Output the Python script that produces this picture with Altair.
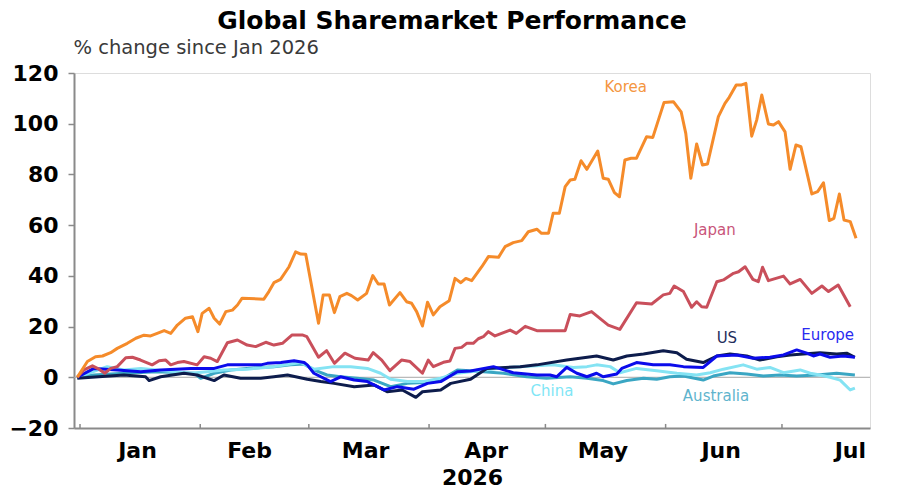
import altair as alt
import pandas as pd

BASE = pd.Timestamp("2026-01-01")

# ---- data (day offsets from 1 Jan 2026, % change since Jan 2026) ----
korea_days = [-0.7, 1.9, 4, 5.8, 7.9, 9.6, 12.2, 14.4, 16.5, 18.2, 19.9, 21.7, 23.4, 25.1, 27.2, 29, 30.4, 31.5,
              33.3, 34.6, 36, 37.6, 39.3, 40.6, 41.8, 47.4, 48.7, 50, 51.7, 53.9, 55.6, 56.9, 58.2, 61.5, 62.7,
              64.3, 65.6, 67, 68.8, 70, 71.6, 73.9, 75.5, 76.9, 78.4, 79.8, 82.5, 84.2, 85.5, 86.8, 88.3, 89.6,
              91.1, 92.8, 95.2, 96.7, 98.2, 99.5, 101, 103.6, 105.3, 107.9, 109.6, 111.7, 113.9, 115.6, 117.8,
              119, 120.8, 122, 123.6, 125.1, 126.4, 127.6, 129.2, 130.7, 133.5, 134.9, 136.2, 137.8, 139.1, 140.5,
              142.1, 143.5, 146.1, 147.7, 150.6, 153, 155, 156.2, 157.5, 159, 160.5, 161.8, 164.6, 166.3, 167.4,
              169.2, 170.6, 171.7, 173.2, 174.5, 175.8, 177.5, 178.8, 180.1, 181.8, 183.1, 184.6, 185.9, 188.7,
              190.2, 191.7, 193.2, 194.4, 195.8, 197, 198.6, 200.1]
korea_vals = [0, 6.2, 8.1, 8.4, 9.7, 11.4, 13.4, 15.4, 16.6, 16.3, 17.3, 18.4, 17.3, 20.6, 23.3, 23.9, 18, 25.2,
              27.2, 23.3, 21, 25.9, 26.5, 28.5, 31.2, 30.8, 33.8, 37.3, 38.6, 43.6, 49.5, 48.6, 48.5, 21.3, 32.5,
              32.5, 25.5, 31.8, 33.1, 32.2, 30.5, 33.1, 40.1, 36.8, 36.8, 28.5, 33.4, 29.8, 29.2, 25.9, 20.2, 29.6,
              24.6, 27.8, 30.2, 39, 37.3, 39, 38.1, 43.6, 47.6, 47.3, 51.5, 53.1, 53.9, 57.4, 58.4,
              56.8, 56.8, 64.7, 64.7, 75.2, 77.8, 78.1, 85.4, 82, 89.2, 78.5, 78.1, 72.8, 71.2, 85.7,
              86.4, 86.4, 94.9, 94.6, 108.4, 108.7, 104.7, 96.2, 78.5, 92, 83.7, 84.1, 102.8, 108, 110.4,
              115.3, 115.3, 115.9, 95.1, 101.5, 111.3, 99.9, 99.5, 100.8, 96.8, 82, 91.6, 90.9, 72.3,
              73.2, 76.7, 61.8, 62.7, 72.3, 62, 61.4, 54.8]

japan_days = [-0.7, 1, 3.2, 4.9, 6.4, 7.9, 9.6, 11.8, 13.5, 15.6, 18.6, 20.4, 22.1, 23.4, 25.1, 26.8, 30.2, 32,
              33.7, 35.4, 38, 40.6, 43.1, 45.3, 47.9, 50, 52.2, 54.7, 57.3, 58.5, 61.5, 63.6, 65.6, 68.3, 70.9,
              74.3, 75.6, 77.8, 79.9, 82.9, 85.1, 88.3, 89.8, 91.1, 93.7, 95.4, 96.7, 98.4, 99.7, 101.4, 102.7,
              104, 105.3, 107, 109.2, 110.9, 112.5, 114.8, 117.8, 125.1, 126.4, 128.9, 131.9, 136.2, 139.2,
              143.5, 147.4, 150.4, 152.1, 153.2, 155.6, 157.7, 159, 160.3, 161.6, 164.2, 165.9, 168.5, 169.8,
              171.5, 173.5, 174.9, 176, 177.5, 181.4, 183.1, 185.7, 188.7, 191.3, 193, 195.5, 198.6]
japan_vals = [0, 2.9, 4.5, 3.2, 1.6, 3.5, 4.2, 7.7, 7.9, 6.8, 4.9, 6.5, 6.8, 4.9, 5.8, 6.2, 4.9, 8.1,
              7.5, 6.2, 13.6, 14.7, 12.7, 12.1, 13.8, 12.7, 13.4, 16.7, 16.7, 16, 7.9, 10.5, 5.5, 9.5, 7.5,
              6.8, 9.7, 6.8, 2.6, 6.8, 6.2, 1.6, 6.8, 4.2, 5.9, 6.4, 11.4, 11.8, 13.4, 13.4, 15.2,
              16, 18, 16.3, 17.6, 18.6, 17.3, 20.1, 18.4, 18.4, 24.8, 24.2, 25.9, 20.6, 18.9,
              29.4, 28.9, 32.5, 33.1, 36, 33.8, 27.6, 29.8, 27.8, 27.6, 37.7, 38.4, 41, 41.6,
              43.6, 38.6, 37.7, 43.4, 38.1, 39.9, 36.8, 38.6, 33.1, 36, 33.8, 36.4, 27.8]

us_days = [-0.7, 11.3, 16.9, 17.8, 20.8, 26.8, 30.2, 34.6, 37.1, 41.4, 46.6, 50, 53.5, 58.6, 62.1, 65.5, 70.7,
           75.8, 79.2, 83.1, 86.6, 88.3, 93, 95.6, 100.7, 104.9, 113.5, 117.8, 125.5, 133.2, 137.5, 141, 145.3,
           150.4, 153.9, 156.4, 160.7, 164.2, 167.6, 171.9, 175.3, 179.7, 183.1, 186.5, 190.8, 195.1, 197.7, 199.8]
us_vals = [-0.4, 0.9, 0.2, -1.3, 0.2, 1.6, 0.9, -1.3, 0.9, -0.4, -0.4, 0.2, 0.9, -0.8, -1.7, -2.4, -3.7,
           -3, -5.7, -5, -7.9, -5.7, -5, -2.4, -0.8, 3.5, 4.2, 4.9, 6.8, 8.4, 6.8, 8.4, 9.2,
           10.5, 9.7, 7.1, 5.8, 8.4, 9.2, 8.4, 6.8, 8.1, 8.8, 9.2, 9.7, 9.2, 9.5, 7.9]

europe_days = [-0.7, 3.6, 9.6, 15.7, 20.8, 28.5, 34.6, 38, 46.6, 48.3, 51.8, 55.2, 57.8, 58.6, 60.3, 64.6, 67.2,
               70.7, 74.1, 78.4, 81.8, 86.1, 89.6, 93, 97.3, 100.7, 106.6, 111.7, 117.8, 121.2, 122.9, 125.5,
               128.1, 130.7, 133.2, 134.9, 138.4, 139.7, 143.5, 147.8, 152.1, 155.6, 160.7, 164.2, 169.3, 173.6,
               177.9, 181.4, 184.8, 187.4, 189.1, 190.8, 193.4, 196.8, 199.8]
europe_vals = [0, 3.5, 2.9, 2.2, 2.9, 3.5, 3.5, 4.9, 4.9, 5.5, 5.8, 6.5, 5.8, 4.9, 1.6, -1.7, 0.2,
               -1.1, -1.7, -5, -3.7, -4.7, -2.4, -1.7, 2.2, 2.5, 4.2, 1.8, 0.9, 0.9, 0.2, 3.9,
               1.6, 0.2, 1.6, 0.2, 1.3, 3.5, 5.8, 4.9, 4.9, 4.2, 3.9, 8.4, 8.8, 7.5,
               7.9, 8.8, 10.8, 9.5, 8.4, 9.2, 7.9, 8.4, 7.9]

china_days = [-0.7, 7, 11.3, 15.7, 28.5, 32.8, 37.1, 43.1, 50, 56.9, 60.3, 65.5, 69.8, 74.1, 77.5, 80.1, 84.4,
              88.7, 93, 97.3, 100.6, 107.5, 113.5, 122, 127.2, 130.7, 133.2, 136.7, 139.2, 143.5, 148.7, 153.9,
              159, 162.5, 165.9, 171, 174.5, 177.9, 181.4, 185.7, 188.3, 190.8, 193.4, 196, 198.6, 199.8]
china_vals = [0, 4.2, 2.9, 3.5, 1.6, 2.2, 2.9, 3.2, 4.2, 5.8, 3.2, 4.2, 4.2, 3.5, 1.6, -0.8, -1.7,
              -1.7, -0.4, 1.6, 2.2, 3.5, 4.2, 4.9, 3.9, 4.2, 4.9, 4.2, 1.8, 3.5, 2.6, 1.6,
              0.9, 1.8, 3.2, 4.9, 3.2, 3.9, 1.8, 2.9, 1.6, 0.9, 0, -1.1, -5, -4.3]

australia_days = [-0.7, 3.6, 11.3, 19.9, 29.4, 31.1, 34.6, 38.9, 43.1, 46.6, 50, 54.3, 57.8, 60.3, 63.7, 67.2,
                  71.5, 75.8, 80.1, 84.4, 88.7, 93, 97.3, 100.6, 109.2, 115.2, 120.3, 126.4, 130.7, 134.9, 137.5,
                  141, 145.3, 148.7, 152.1, 155.6, 160.7, 163.3, 167.6, 171.9, 176.2, 180.5, 184.8, 190, 195.1,
                  199.8]
australia_vals = [0, 0.9, 1.6, 2.2, 1.6, -0.4, 1.6, 2.9, 3.5, 3.9, 4.2, 4.9, 5.2, 2.9, 0.9, 0.2,
                  -0.4, -1.1, -3.7, -2.4, -2.1, -1.1, 2.9, 2.6, 1.6, 0.2, -0.4, 0.2, -0.4, -1.3, -2.6,
                  -1.3, -0.4, -0.8, 0.2, 0.5, -1.1, 0.5, 1.8, 1.3, 0.5, 0.9, 0.5, 0.9, 1.6,
                  0.9]

series_names = ["Australia", "China", "US", "Europe", "Japan", "Korea"]
series_colors = ["#3AA6C3", "#84E3F3", "#0D1C4C", "#0B0BEB", "#C94F5B", "#F58B2A"]
series_days = [australia_days, china_days, us_days, europe_days, japan_days, korea_days]
series_vals = [australia_vals, china_vals, us_vals, europe_vals, japan_vals, korea_vals]

label_names = ["Korea", "Japan", "US", "Europe", "China", "Australia"]
label_days = [140.7, 163.7, 166.8, 192.8, 121.7, 164.0]
label_vals = [114.5, 58.1, 15.5, 16.8, -5.4, -7.4]
label_colors = ["#F4963F", "#C9557A", "#1F2E5C", "#2A2AF0", "#7FE6F6", "#5FB4CD"]

month_start_days = [0, 31, 59, 90, 120, 151, 181]
month_label_days = [14.7, 43.6, 73.5, 104.6, 134.7, 165.2, 198.5]
y_ticks = [-20, 0, 20, 40, 60, 80, 100, 120]
x_start_day, x_end_day = -1.55, 203.7


def stamp(d):
    return BASE + pd.to_timedelta(d, unit="D")


def iso(d):
    return stamp(d).strftime("%Y-%m-%dT%H:%M:%S")


def dt(d):
    t = stamp(d)
    return alt.DateTime(year=t.year, month=t.month, date=t.day, hours=t.hour, minutes=t.minute)


FONT = "DejaVu Sans"
W, H = 796, 355

x_scale = alt.Scale(domain=[dt(x_start_day), dt(x_end_day)])
y_scale = alt.Scale(domain=[-20, 120], nice=False, zero=False)

x_axis = alt.Axis(values=[dt(d) for d in month_label_days], format="%b", ticks=False, tickSize=0,
                  labelFont=FONT, labelFontSize=22, labelFontWeight="bold", labelColor="#000000",
                  labelPadding=12, labelFlush=False, domainColor="#8a8a8a", domainWidth=2, grid=False,
                  title="2026", titleFont=FONT, titleFontSize=22, titleFontWeight="bold",
                  titleColor="#000000", titlePadding=6)
y_axis = alt.Axis(values=y_ticks, labelFont=FONT, labelFontSize=22, labelFontWeight="bold",
                  labelColor="#000000", tickColor="#8a8a8a", tickSize=6, tickWidth=1.5, labelPadding=10,
                  domainColor="#8a8a8a", domainWidth=2, grid=False,
                  title="% change since Jan 2026", titleAngle=0, titleAlign="left",
                  titleBaseline="alphabetic", titleX=-1, titleY=-20, titleFont=FONT, titleFontSize=19.5,
                  titleFontWeight="normal", titleColor="#3a3a3a")

zero_df = pd.DataFrame({"v": [0]})
zero = alt.Chart(zero_df).mark_rule(color="#a8a8a8", strokeWidth=1).encode(
    y=alt.Y("v:Q", scale=y_scale, axis=y_axis))

ticks_df = pd.DataFrame({"date": [iso(d) for d in month_start_days]})
ticks = alt.Chart(ticks_df).mark_rule(color="#8a8a8a", strokeWidth=1.5).encode(
    x=alt.X("date:T", scale=x_scale, axis=x_axis),
    y=alt.datum(-20), y2=alt.datum(-18.4))

layers = [zero, ticks]
for name, days, vals, col in zip(series_names, series_days, series_vals, series_colors):
    df = pd.DataFrame({"date": [iso(d) for d in days], "value": vals, "series": name})
    layers.append(alt.Chart(df).mark_line(color=col, strokeWidth=3, strokeJoin="round").encode(
        x=alt.X("date:T", scale=x_scale, axis=x_axis),
        y=alt.Y("value:Q", scale=y_scale, axis=y_axis)))

lab_df = pd.DataFrame({"date": [iso(d) for d in label_days], "value": label_vals, "name": label_names})
labels = alt.Chart(lab_df).mark_text(font=FONT, fontSize=15, baseline="middle", align="center").encode(
    x=alt.X("date:T", scale=x_scale, axis=x_axis),
    y=alt.Y("value:Q", scale=y_scale, axis=y_axis),
    text="name:N",
    color=alt.Color("name:N", scale=alt.Scale(domain=label_names, range=label_colors), legend=None))
layers.append(labels)

chart = alt.layer(*layers).properties(
    width=W, height=H,
    title=alt.TitleParams("Global Sharemarket Performance", font=FONT, fontSize=25, fontWeight="bold",
                          color="#000000", anchor="middle", frame="group", dx=-20, dy=3, offset=6),
    autosize=alt.AutoSizeParams(type="none"),
    padding={"left": 74, "top": 73, "right": 35, "bottom": 68},
).configure_view(stroke="#8a8a8a", strokeWidth=2).configure(background="#ffffff")

chart.save("out.html", embed_options={"renderer": "svg", "actions": False})
